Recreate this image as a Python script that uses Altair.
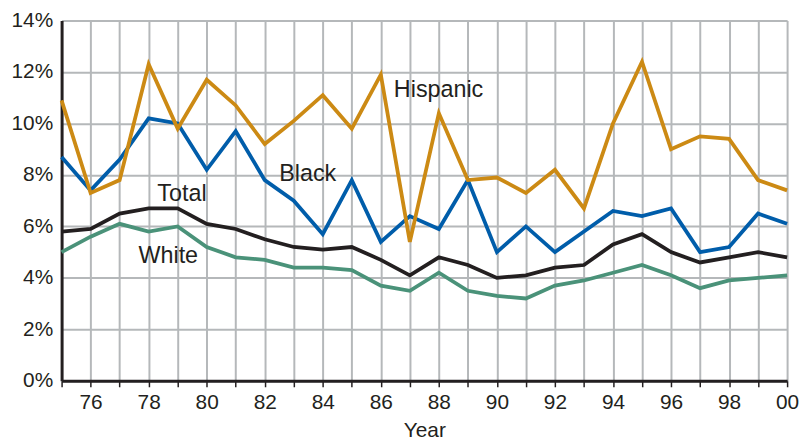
import altair as alt
import pandas as pd

years = list(range(1975, 2001))
hispanic = [10.9, 7.3, 7.8, 12.3, 9.8, 11.7, 10.7, 9.2, 10.1, 11.1, 9.8, 11.9, 5.4,
            10.4, 7.8, 7.9, 7.3, 8.2, 6.7, 10.0, 12.4, 9.0, 9.5, 9.4, 7.8, 7.4]
black = [8.7, 7.4, 8.6, 10.2, 10.0, 8.2, 9.7, 7.8, 7.0, 5.7, 7.8, 5.4, 6.4,
         5.9, 7.8, 5.0, 6.0, 5.0, 5.8, 6.6, 6.4, 6.7, 5.0, 5.2, 6.5, 6.1]
total = [5.8, 5.9, 6.5, 6.7, 6.7, 6.1, 5.9, 5.5, 5.2, 5.1, 5.2, 4.7, 4.1,
         4.8, 4.5, 4.0, 4.1, 4.4, 4.5, 5.3, 5.7, 5.0, 4.6, 4.8, 5.0, 4.8]
white = [5.0, 5.6, 6.1, 5.8, 6.0, 5.2, 4.8, 4.7, 4.4, 4.4, 4.3, 3.7, 3.5,
         4.2, 3.5, 3.3, 3.2, 3.7, 3.9, 4.2, 4.5, 4.1, 3.6, 3.9, 4.0, 4.1]

series_names = ["White", "Total", "Black", "Hispanic"]
series_values = [white, total, black, hispanic]
series_colors = ["#4A9279", "#231F20", "#005DAA", "#CC8A14"]

label_names = ["Hispanic", "Black", "Total", "White"]
label_years = [1986.45, 1982.5, 1978.3, 1977.65]
label_vals = [11.28, 8.02, 7.25, 4.83]

rows = []
for i, (name, vals) in enumerate(zip(series_names, series_values)):
    for y, v in zip(years, vals):
        rows.append({"Year": y, "Rate": v, "Group": name, "order": i})
df = pd.DataFrame(rows)
labels_df = pd.DataFrame({"Year": label_years, "Rate": label_vals, "Label": label_names})

FONT = "Liberation Sans"

x_enc = alt.X("Year:Q",
              scale=alt.Scale(domain=[1975, 2000], nice=False, zero=False),
              axis=alt.Axis(values=years, tickCount=40, title="Year", format="d",
                            labelExpr="datum.value % 2 == 0 ? substring(datum.label, 2) : ''",
                            labelOverlap=False,
                            grid=True, gridColor="#B5B8BA", gridWidth=2,
                            domainColor="#231F20", domainWidth=3,
                            tickColor="#231F20", tickSize=6, tickWidth=1.5,
                            labelFontSize=21, labelFont=FONT, labelColor="#231F20",
                            labelPadding=5, labelFlush=False,
                            titleFontSize=21, titleFont=FONT, titleFontWeight="normal",
                            titleColor="#231F20", titlePadding=7))
y_enc = alt.Y("Rate:Q",
              scale=alt.Scale(domain=[0, 14], nice=False),
              axis=alt.Axis(values=[0, 2, 4, 6, 8, 10, 12, 14], title=None,
                            labelExpr="datum.value + '%'",
                            labelOverlap=False,
                            grid=True, gridColor="#B5B8BA", gridWidth=2,
                            domainColor="#231F20", domainWidth=3,
                            ticks=False, labelPadding=9,
                            labelFontSize=21, labelFont=FONT, labelColor="#231F20"))

lines = alt.Chart(df).mark_line(strokeWidth=3.8, strokeJoin="miter").encode(
    x=x_enc,
    y=y_enc,
    color=alt.Color("Group:N", scale=alt.Scale(domain=series_names, range=series_colors), legend=None),
    order=alt.Order("order:Q"),
    detail="Group:N",
)

texts = alt.Chart(labels_df).mark_text(align="left", baseline="middle", fontSize=23.5,
                                       font=FONT, color="#231F20").encode(
    x="Year:Q", y="Rate:Q", text="Label:N")

chart = alt.layer(lines, texts).properties(
    width=731, height=363,
    autosize=alt.AutoSizeParams(type="none"),
    padding={"left": 54, "top": 11, "right": 13, "bottom": 58},
).configure_view(stroke=None)

chart.save("out.html", embed_options={"renderer": "svg", "actions": False})
